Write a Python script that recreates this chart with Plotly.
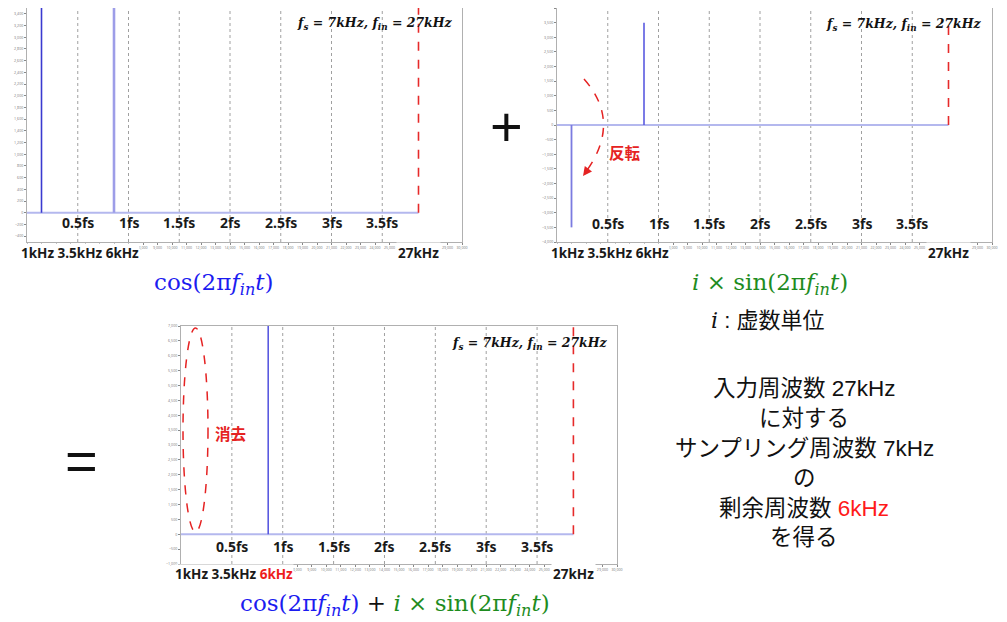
import plotly.graph_objects as go

# page body has an 8px default margin: figure is sized so it fills the 1007x622 window
OFF = 8
W, H = 1007 - OFF, 622 - OFF

# ---------------- data ----------------
FS = 7000
FIN = 27000
FS_MULTS = [0.5, 1, 1.5, 2, 2.5, 3, 3.5]
FS_LABELS = ["0.5fs", "1fs", "1.5fs", "2fs", "2.5fs", "3fs", "3.5fs"]
ALIAS_FREQS = [1000, 6000]
COS_AMP = [3500, 3500]
SIN_AMP = [-3500, 3500]
SUM_AMP = [0, 7000]
FIN_AMP = [3500, 3500, 7000]
Y_RANGES = [[-500, 3500], [-4000, 4000], [-1000, 7000]]
Y_DTICKS = [200, 500, 500]
X_RANGE = [0, 30000]
# x tick labels visible in the reference (the others sit under the kHz captions)
X_TICKS = [8000, 9000, 10000, 11000, 12000, 13000, 14000, 15000, 16000, 17000,
           18000, 19000, 20000, 21000, 22000, 23000, 24000, 25000, 29000, 30000]

# ---------------- helpers (window pixels -> paper) ----------------
def px(x):
    return (x - OFF) / W

def py(y):
    return 1 - (y - OFF) / H

def clamp(v):
    return max(0.0, min(1.0, v))

DOMAINS = [
    dict(x=[px(27), px(462)], y=[py(242), clamp(py(4))]),
    dict(x=[px(557), px(992)], y=[py(242), clamp(py(5))]),
    dict(x=[px(181), px(617)], y=[py(564), py(326)]),
]

fig = go.Figure()

stem_styles = [
    [dict(color="#3a3ad0", width=1.6), dict(color="#9d9de8", width=2.6)],
    [dict(color="#7b7be0", width=1.8), dict(color="#5a5ae0", width=1.6)],
    [dict(color="#5a5ae0", width=1.6), dict(color="#5a5ae0", width=1.6)],
]
amps = [COS_AMP, SIN_AMP, SUM_AMP]

for i in range(3):
    n = "" if i == 0 else str(i + 1)
    xa, ya = "x" + n, "y" + n
    fig.add_trace(go.Scatter(x=[0, FIN], y=[0, 0], mode="lines",
                             line=dict(color="#b4b8ee", width=2),
                             xaxis=xa, yaxis=ya, showlegend=False, hoverinfo="skip"))
    for f, a, st in zip(ALIAS_FREQS, amps[i], stem_styles[i]):
        if a == 0:
            continue
        fig.add_trace(go.Scatter(x=[f, f], y=[0, a], mode="lines", line=st,
                                 xaxis=xa, yaxis=ya, showlegend=False, hoverinfo="skip"))
    fig.add_trace(go.Scatter(x=[FIN, FIN], y=[0, FIN_AMP[i]], mode="lines",
                             line=dict(color="#e62a2a", width=1.6, dash="dash"),
                             xaxis=xa, yaxis=ya, showlegend=False, hoverinfo="skip"))
    for m in FS_MULTS:
        fig.add_shape(type="line", xref=xa, yref=ya + " domain",
                      x0=m * FS, x1=m * FS, y0=0, y1=1,
                      line=dict(color="#a0a0a0", width=1, dash="3px,3px"), layer="below")

axis_common = dict(showline=True, mirror=True, linecolor="#b0b0b0", linewidth=1,
                   showgrid=False, zeroline=False, ticks="outside", ticklen=2,
                   tickcolor="#888", tickfont=dict(size=3.6, color="#777"),
                   automargin=False)

layout_axes = {}
for i in range(3):
    n = "" if i == 0 else str(i + 1)
    layout_axes["xaxis" + n] = dict(axis_common, domain=DOMAINS[i]["x"], range=X_RANGE,
                                    tickmode="array", tickvals=X_TICKS,
                                    tickformat=",", tickangle=0, anchor="y" + n,
                                    minor=dict(ticks="outside", ticklen=2, tickcolor="#888",
                                               tick0=0, dtick=1000))
    layout_axes["yaxis" + n] = dict(axis_common, domain=DOMAINS[i]["y"], range=Y_RANGES[i],
                                    tickmode="linear", tick0=0, dtick=Y_DTICKS[i],
                                    tickformat=",", anchor="x" + n)

fig.update_layout(width=W, height=H, margin=dict(l=0, r=0, t=0, b=0, autoexpand=False),
                  paper_bgcolor="white", plot_bgcolor="white", **layout_axes)

ann = []
label_font = dict(family="Noto Sans, sans-serif", size=14, color="#1a1a1a", weight="bold")
khz_font = dict(label_font, size=13.5)
math_title = "<b><i>f<sub>s</sub> = 7kHz, f<sub>in</sub> = 27kHz</i></b>"
title_font = dict(family="DejaVu Serif, serif", size=12.5, color="#111")

fs_label_y = [223, 224, 546]
khz_y = [253, 253, 574]
khz_left = [20, 550, 174]
title_pos = [(375, 23), (904, 24), (530, 343)]
khz_text = ["1kHz 3.5kHz 6kHz", "1kHz 3.5kHz 6kHz",
            "1kHz 3.5kHz <span style='color:#ee1c1c'>6kHz</span>"]

def A(**kw):
    d = dict(showarrow=False, xanchor="center", yanchor="middle")
    d.update(kw)
    ann.append(d)

for i in range(3):
    n = "" if i == 0 else str(i + 1)
    xa = "x" + n
    for m, lab in zip(FS_MULTS, FS_LABELS):
        A(x=m * FS, xref=xa, y=py(fs_label_y[i]), yref="paper", text=lab, font=label_font)
    A(x=px(khz_left[i]), xref="paper", y=py(khz_y[i]), yref="paper",
      text=khz_text[i], font=khz_font, xanchor="left", bgcolor="white", borderpad=0)
    A(x=FIN, xref=xa, y=py(khz_y[i]), yref="paper",
      text="27kHz", font=khz_font, bgcolor="white", borderpad=1)
    A(x=px(title_pos[i][0]), xref="paper", y=py(title_pos[i][1]), yref="paper",
      text=math_title, font=title_font)

BLUE = "#1c1cf0"
GREEN = "#1e8c1e"
cos_txt = "cos(2π<i>f</i><sub><i>in</i></sub><i>t</i>)"
sin_txt = "<i>i</i> × sin(2π<i>f</i><sub><i>in</i></sub><i>t</i>)"
formula_font = dict(family="DejaVu Serif, serif", size=23)

A(x=px(214), y=py(284), xref="paper", yref="paper", text=cos_txt,
  font=dict(formula_font, color=BLUE))
A(x=px(770), y=py(284), xref="paper", yref="paper", text=sin_txt,
  font=dict(formula_font, color=GREEN))
A(x=px(395), y=py(605), xref="paper", yref="paper",
  text=f"<span style='color:{BLUE}'>{cos_txt}</span> + <span style='color:{GREEN}'>{sin_txt}</span>",
  font=dict(formula_font, color="#111"))
A(x=px(767), y=py(320), xref="paper", yref="paper",
  text="<span style='font-family:DejaVu Serif'><i>i</i></span> : 虚数単位",
  font=dict(family="Liberation Sans, Noto Sans CJK JP", size=22, color="#111"))

# big operators
A(x=px(506), y=py(127), xref="paper", yref="paper", text="+",
  font=dict(family="Liberation Sans", size=56, color="#111"))
A(x=px(81), y=py(460), xref="paper", yref="paper", text="=",
  font=dict(family="Liberation Sans", size=56, color="#111"))

# explanation block
right_lines = ["入力周波数 27kHz", "に対する", "サンプリング周波数 7kHz", "の",
               "剰余周波数 <span style='color:#ff1a1a'>6kHz</span>", "を得る"]
right_y = [388, 418, 448, 478, 508, 537]
for t, yy in zip(right_lines, right_y):
    A(x=px(804), y=py(yy), xref="paper", yref="paper", text=t,
      font=dict(family="Liberation Sans, Noto Sans CJK JP", size=22.5, color="#111"))

# red notes
red_font = dict(family="Noto Sans CJK JP", size=15.5, color="#e52222", weight="bold")
A(x=px(625), y=py(152), xref="paper", yref="paper", text="反転", font=red_font)
A(x=px(230), y=py(433), xref="paper", yref="paper", text="消去", font=red_font)

# arrowhead of the flip arc
ann.append(dict(x=px(583), y=py(176), xref="paper", yref="paper", text="",
                showarrow=True, ax=6, ay=-8, arrowhead=2, arrowsize=1.2,
                arrowwidth=1.5, arrowcolor="#e52222"))

fig.update_layout(annotations=ann)

# flip arc (dashed)
p0, p1, p2 = (584, 79), (622.5, 122.5), (585, 173)
fig.add_shape(type="path", xref="paper", yref="paper",
              path=f"M {px(p0[0])},{py(p0[1])} Q {px(p1[0])},{py(p1[1])} {px(p2[0])},{py(p2[1])}",
              line=dict(color="#e52222", width=1.5, dash="dash"))
# cancel ellipse
fig.add_shape(type="circle", xref="paper", yref="paper",
              x0=px(183), x1=px(208), y0=py(532), y1=py(328),
              line=dict(color="#e52222", width=1.5, dash="dash"))

fig.write_html("out.html")
